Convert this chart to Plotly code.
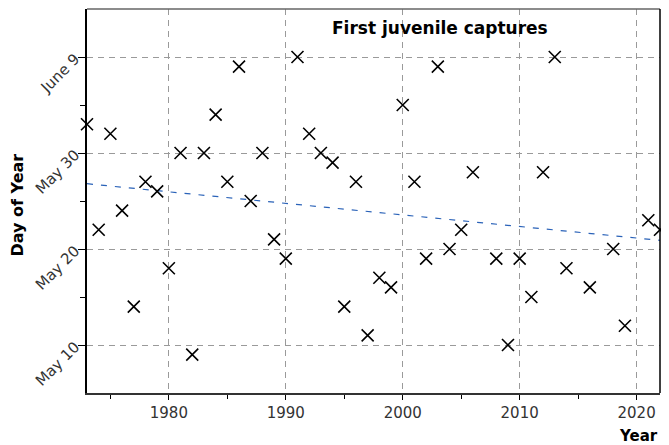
import plotly.graph_objects as go

years = [1973, 1974, 1975, 1976, 1977, 1978, 1979, 1980, 1981, 1982, 1983, 1984, 1985,
         1986, 1987, 1988, 1989, 1990, 1991, 1992, 1993, 1994, 1995, 1996, 1997, 1998,
         1999, 2000, 2001, 2002, 2003, 2004, 2005, 2006, 2008, 2009, 2010, 2011, 2012,
         2013, 2014, 2016, 2018, 2019, 2021, 2022]
day_of_year = [153, 142, 152, 144, 134, 147, 146, 138, 150, 129, 150, 154, 147,
               159, 145, 150, 141, 139, 160, 152, 150, 149, 134, 147, 131, 137,
               136, 155, 147, 139, 159, 140, 142, 148, 139, 130, 139, 135, 148,
               160, 138, 136, 140, 132, 143, 142]

trend_years = [1973, 2022]
trend_days = [146.8, 140.9]

ytick_vals = [130, 140, 150, 160]
ytick_text = ["May 10", "May 20", "May 30", "June 9"]
xtick_vals = [1980, 1990, 2000, 2010, 2020]

FONT = "DejaVu Sans"

fig = go.Figure()
fig.add_trace(go.Scatter(
    x=trend_years, y=trend_days, mode="lines",
    line=dict(color="#2a62b8", width=1.2, dash="6px,8px"),
    hoverinfo="skip", showlegend=False, cliponaxis=False))
fig.add_trace(go.Scatter(
    x=years, y=day_of_year, mode="markers",
    marker=dict(symbol="x-thin", size=12, line=dict(color="black", width=1.6)),
    showlegend=False, cliponaxis=False))

grid = dict(showgrid=True, gridcolor="#9a9a9a", griddash="6px,5px", gridwidth=1)
fig.update_xaxes(
    range=[1973, 2022], tickvals=xtick_vals, ticks="outside", ticklen=5,
    tickcolor="black", showline=True, linecolor="#333", linewidth=1.5,
    zeroline=False, automargin=False, tickfont=dict(family=FONT, size=15, color="#333"),
    minor=dict(tickvals=[1975, 1985, 1995, 2005, 2015], ticks="outside", ticklen=4, tickcolor="black"),
    **grid)
fig.update_yaxes(
    range=[125, 165], tickvals=ytick_vals, ticktext=ytick_text, tickangle=-45,
    ticks="outside", ticklen=7, tickcolor="black", showline=True, linecolor="black",
    linewidth=1.5, zeroline=False, automargin=False,
    tickfont=dict(family=FONT, size=15, color="#333"),
    minor=dict(tickvals=[135, 145, 155], ticks="outside", ticklen=5, tickcolor="black"),
    **grid)

fig.add_shape(type="line", xref="paper", yref="paper", x0=0, x1=1, y0=1, y1=1,
              line=dict(color="#666", width=1.5))
fig.add_shape(type="line", xref="paper", yref="paper", x0=1, x1=1, y0=0, y1=1,
              line=dict(color="black", width=1.5))

fig.add_annotation(text="<b>First juvenile captures</b>", xref="paper", yref="paper",
                   x=0.616, y=0.95, xanchor="center", yanchor="middle", showarrow=False,
                   font=dict(family=FONT, size=17, color="black"))
fig.add_annotation(text="<b>Day of Year</b>", xref="paper", yref="paper",
                   x=-0.121, y=0.49, xanchor="center", yanchor="middle",
                   textangle=-90, showarrow=False,
                   font=dict(family=FONT, size=16, color="black"))
fig.add_annotation(text="<b>Year</b>", xref="paper", yref="paper",
                   x=0.963, y=-0.112, xanchor="center", yanchor="middle", showarrow=False,
                   font=dict(family=FONT, size=15, color="black"))

# page body has an 8px default margin: size the figure so the plot area lands
# where it sits in the reference
fig.update_layout(
    width=661, height=437, margin=dict(l=79, r=9, t=1, b=52),
    plot_bgcolor="white", paper_bgcolor="white", showlegend=False)

fig.write_html("out.html")
